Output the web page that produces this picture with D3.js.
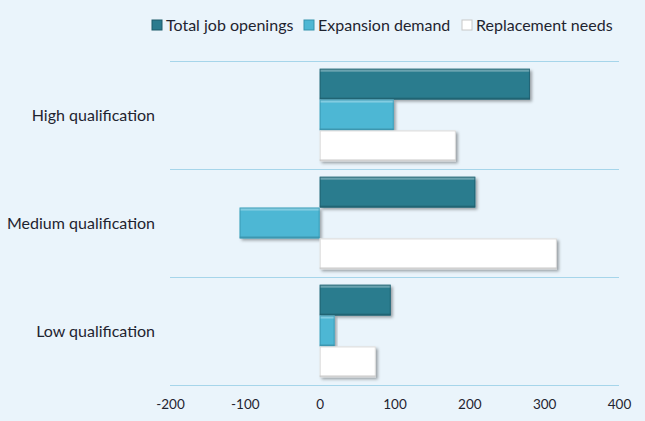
<!DOCTYPE html>
<html>
<head>
<meta charset="utf-8">
<script src="https://cdn.jsdelivr.net/npm/d3@7"></script>
<style>
  body { margin: 0; background: #eaf4fb; }
  svg { display: block; font-family: Lato, "Open Sans", sans-serif; }
</style>
</head>
<body>
<svg id="chart" width="645" height="421"></svg>
<script>
const categories = ['High qualification', 'Medium qualification', 'Low qualification'];
const seriesNames = ['Total job openings', 'Expansion demand', 'Replacement needs'];
const totalOpenings = [281, 208, 95];
const expansionDemand = [99, -107, 20];
const replacementNeeds = [182, 317, 75];
const xTicks = [-200, -100, 0, 100, 200, 300, 400];

const colors = ['#2b7b8e', '#4db7d4', '#ffffff'];
const edge = ['#1d5a6a', '#3593ad', '#c8c8c8'];
const series = [totalOpenings, expansionDemand, replacementNeeds];

const svg = d3.select('#chart');
const margin = { top: 61, right: 26, bottom: 36, left: 170 };
const width = svg.attr('width') - margin.left - margin.right;
const height = svg.attr('height') - margin.top - margin.bottom;

const defs = svg.append('defs');
const shadow = defs.append('filter').attr('id', 'shadow')
    .attr('x', '-10%').attr('y', '-20%').attr('width', '130%').attr('height', '160%');
shadow.append('feDropShadow').attr('dx', 2).attr('dy', 2).attr('stdDeviation', 1.5)
    .attr('flood-color', '#000').attr('flood-opacity', 0.35);

const g = svg.append('g').attr('transform', `translate(${margin.left},${margin.top})`);

const x = d3.scaleLinear().domain([-200, 400]).range([0, width]);
const y = d3.scaleBand().domain(categories).range([0, height]);
const inner = d3.scaleBand().domain(seriesNames).range([0, y.bandwidth()]).paddingOuter(0.25);

// gridlines between categories
const gridYs = categories.map(c => y(c)).concat([height]);
g.selectAll('.grid').data(gridYs).enter().append('line')
    .attr('x1', 0).attr('x2', width)
    .attr('y1', d => Math.round(d) + 0.5).attr('y2', d => Math.round(d) + 0.5)
    .attr('stroke', '#a6d5ea').attr('stroke-width', 1);

// x axis labels
const xAxis = g.append('g').attr('transform', `translate(0,${height})`)
    .call(d3.axisBottom(x).tickValues(xTicks).tickSize(0).tickPadding(14).tickFormat(d => String(d)));
xAxis.select('.domain').remove();
xAxis.selectAll('text').attr('font-size', 13.5).attr('fill', '#1f2430').style('font-family', 'Lato, "Open Sans", sans-serif');

// category labels
g.selectAll('.cat').data(categories).enter().append('text')
    .attr('x', -15).attr('y', d => y(d) + y.bandwidth() / 2)
    .attr('dy', '0.35em').attr('text-anchor', 'end')
    .attr('font-size', 16).attr('fill', '#1f2430').text(d => d);

// bars
seriesNames.forEach((name, si) => {
    const bars = g.selectAll('.bar' + si).data(categories).enter().append('g');
    bars.each(function (c, ci) {
        const v = series[si][ci];
        const x0 = x(Math.min(0, v)), x1 = x(Math.max(0, v));
        const y0 = y(c) + inner(name), h = inner.bandwidth();
        const b = d3.select(this);
        b.append('rect').attr('x', x0).attr('y', y0).attr('width', x1 - x0).attr('height', h)
            .attr('fill', colors[si]).attr('filter', 'url(#shadow)');
        // bevel highlights
        b.append('rect').attr('x', x0).attr('y', y0).attr('width', x1 - x0).attr('height', 3)
            .attr('fill', '#fff').attr('opacity', 0.3);
        b.append('rect').attr('x', x0).attr('y', y0 + h - 2).attr('width', x1 - x0).attr('height', 2)
            .attr('fill', '#000').attr('opacity', 0.15);
        b.append('rect').attr('x', x0 + 0.5).attr('y', y0 + 0.5).attr('width', x1 - x0 - 1).attr('height', h - 1)
            .attr('fill', 'none').attr('stroke', edge[si]).attr('stroke-width', 1).attr('opacity', 0.7);
    });
});

// legend
const legendX = [152, 304, 462];
const legend = svg.append('g').attr('transform', 'translate(0,25)');
seriesNames.forEach((name, i) => {
    const lg = legend.append('g').attr('transform', `translate(${legendX[i]},0)`);
    lg.append('rect').attr('x', 0).attr('y', -5).attr('width', 10).attr('height', 10)
        .attr('fill', colors[i]).attr('stroke', edge[i]).attr('stroke-width', 1);
    lg.append('text').attr('x', 14).attr('dy', '0.35em').attr('font-size', 16)
        .attr('fill', '#1f2430').text(name);
});
</script>
</body>
</html>
